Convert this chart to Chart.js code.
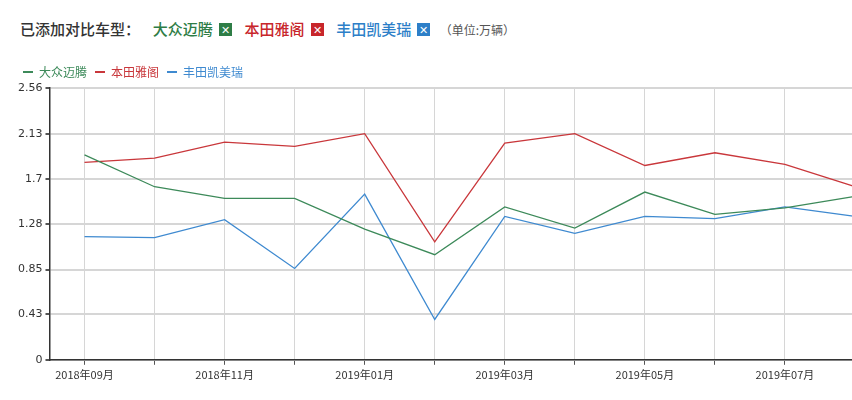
<!DOCTYPE html>
<html><head><meta charset="utf-8">
<script src="https://cdn.jsdelivr.net/npm/chart.js@4"></script>
<style>
body{margin:0;width:852px;height:400px;overflow:hidden;background:#fff;font-family:"Noto Sans CJK SC",sans-serif;position:relative}
#hdr{position:absolute;left:20px;top:18px;font-size:15px;color:#333;white-space:nowrap;font-weight:500}
#hdr span{margin-right:6px}
.x{display:inline-block;width:13px;height:13px;color:#fff;font-size:11px;line-height:13px;text-align:center;margin-left:6px;vertical-align:1px;font-style:normal}
#wrap{position:absolute;left:0;top:58px;width:890px;height:330px}
</style></head><body>
<div id="hdr"><span>已添加对比车型：</span>&nbsp;&nbsp;<span style="color:#2e7d46">大众迈腾<i class="x" style="background:#2e7d46">✕</i></span>&nbsp;&nbsp;<span style="color:#c8262b">本田雅阁<i class="x" style="background:#c8262b">✕</i></span>&nbsp;&nbsp;<span style="color:#2d7fc8">丰田凯美瑞<i class="x" style="background:#2d7fc8">✕</i></span>&nbsp;<span style="color:#555;font-size:12px;font-weight:400">（单位:万辆）</span></div>
<div id="wrap"><canvas id="c"></canvas></div>
<script>
const categories=["2018年09月","2018年10月","2018年11月","2018年12月","2019年01月","2019年02月","2019年03月","2019年04月","2019年05月","2019年06月","2019年07月","2019年08月"];
const magotan=[1.93,1.63,1.52,1.52,1.23,0.99,1.44,1.24,1.58,1.37,1.43,1.54];
const accord=[1.86,1.90,2.05,2.01,2.13,1.11,2.04,2.13,1.83,1.95,1.84,1.63];
const camry=[1.16,1.15,1.32,0.86,1.56,0.38,1.35,1.19,1.35,1.33,1.44,1.35];
const yTicks=[0,0.43,0.85,1.28,1.7,2.13,2.56];
const ds=(l,d,c)=>({label:l,data:d,borderColor:c,backgroundColor:c,borderWidth:1.3,pointRadius:0,tension:0,fill:false});
const shiftLegend={id:'shiftLegend',afterUpdate(ch){(ch.legend.legendHitBoxes||[]).forEach(h=>h.left+=40);}};
new Chart(document.getElementById('c'),{type:'line',
data:{labels:categories,datasets:[ds('大众迈腾',magotan,'#3d8a5a'),ds('本田雅阁',accord,'#c9373b'),ds('丰田凯美瑞',camry,'#3f8ad0')]},
plugins:[shiftLegend],
options:{responsive:true,maintainAspectRatio:false,animation:false,
layout:{padding:{left:15,right:0,top:0,bottom:4}},
plugins:{legend:{align:'start',labels:{boxWidth:10,boxHeight:2,padding:8,font:{size:12,family:'"Noto Sans CJK SC"'},
generateLabels:(ch)=>ch.data.datasets.map((d,i)=>({text:d.label,fillStyle:d.borderColor,strokeStyle:d.borderColor,lineWidth:0,datasetIndex:i,fontColor:d.borderColor}))}},tooltip:{enabled:false}},
scales:{
x:{offset:true,grid:{offset:false,color:'#d6d6d6',tickColor:'#555',tickLength:5},border:{color:'#333',width:1.5},
ticks:{autoSkip:false,maxRotation:0,color:'#333',font:{size:11,family:'"Noto Sans CJK SC"'},callback:(v,i)=>i%2===0?categories[i]:''}},
y:{min:0,max:2.56,afterBuildTicks:(a)=>{a.ticks=yTicks.map(v=>({value:v}))},grid:{color:'#d6d6d6',lineWidth:2,tickColor:'#555',tickLength:4},border:{color:'#333',width:1.5},
ticks:{color:'#333',font:{size:11,family:'"DejaVu Sans"'},callback:v=>String(v)}}}}});
</script></body></html>
